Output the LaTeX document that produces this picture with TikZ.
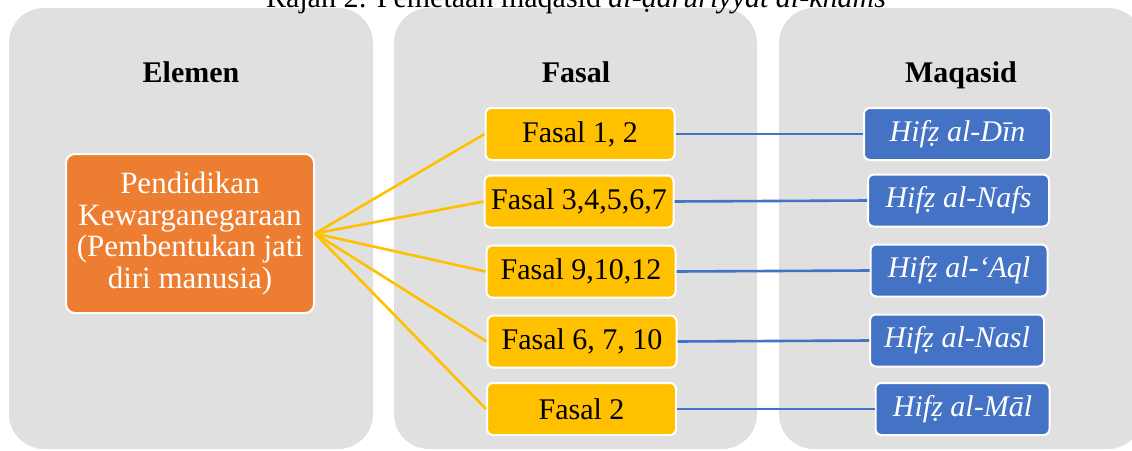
\documentclass[tikz,border=0pt]{standalone}
\usepackage{fontspec}
\setmainfont{Liberation Serif}
\definecolor{panelgray}{HTML}{E0E0E0}
\definecolor{elemenorange}{HTML}{ED7D31}
\definecolor{fasalyellow}{HTML}{FFC000}
\definecolor{maqasidblue}{HTML}{4472C4}

\begin{document}
\begin{tikzpicture}[x=1pt,y=-1pt,
  panel/.style={fill=panelgray,rounded corners=35pt},
  heading/.style={font=\fontsize{30}{36}\selectfont\bfseries,anchor=base},
  elemenbox/.style={draw=white,line width=2pt,fill=elemenorange,rounded corners=9pt,text=white,align=center,
    font=\fontsize{31}{31.5}\selectfont,minimum width=248pt,minimum height=159pt,inner sep=0pt},
  fasalbox/.style={draw=white,line width=2pt,fill=fasalyellow,rounded corners=6pt,
    minimum width=189pt,minimum height=52pt,inner sep=0pt,font=\fontsize{30}{36}\selectfont},
  maqasidbox/.style={draw=white,line width=2pt,fill=maqasidblue,rounded corners=6pt,text=white,
    minimum height=52pt,inner sep=0pt,font=\fontsize{30}{36}\selectfont\itshape},
  yline/.style={draw=fasalyellow,line width=2.6pt},
  bline/.style={draw=maqasidblue,line width=2.6pt}]
 \clip (0,0) rectangle (1132,450); %batas gambar

 \fill[panel] (9,8) rectangle (373,449); %panel Elemen
 \fill[panel] (394,8) rectangle (757,449); %panel Fasal
 \fill[panel] (779,8) rectangle (1143,449); %panel Maqasid

 \node[font=\fontsize{30}{36}\selectfont,anchor=base] (rajah) at (576,7)
   {Rajah 2: Pemetaan maqasid \textit{al-ḍarūriyyāt al-khams}};

 \node[heading] (hElemen) at (191,82) {Elemen};
 \node[heading] (hFasal) at (576,82) {Fasal};
 \node[heading] (hMaqasid) at (961,82) {Maqasid};

 \node[elemenbox] (elemen) at (190,233.5)
   {Pendidikan\\Kewarganegaraan\\(Pembentukan jati\\diri manusia)};

 \node[fasalbox] (f1) at (580,134) {Fasal 1, 2};
 \node[fasalbox] (f2) at (579,201.5) {Fasal 3,4,5,6,7};
 \node[fasalbox] (f3) at (581,271.5) {Fasal 9,10,12};
 \node[fasalbox] (f4) at (582,341.5) {Fasal 6, 7, 10};
 \node[fasalbox] (f5) at (581.5,409) {Fasal 2};

 \node[maqasidbox,minimum width=187pt] (m1) at (957.5,134) {Hifẓ al-Dīn};
 \node[maqasidbox,minimum width=181pt] (m2) at (958.5,200.5) {Hifẓ al-Nafs};
 \node[maqasidbox,minimum width=177pt] (m3) at (959,270.5) {Hifẓ al-‘Aql};
 \node[maqasidbox,minimum width=174pt] (m4) at (957,340.5) {Hifẓ al-Nasl};
 \node[maqasidbox,minimum width=174pt] (m5) at (962.5,409) {Hifẓ al-Māl};

 \draw[yline] (elemen.east) -- (f1.west); %elemen ke fasal
 \draw[yline] (elemen.east) -- (f2.west);
 \draw[yline] (elemen.east) -- (f3.west);
 \draw[yline] (elemen.east) -- (f4.west);
 \draw[yline] (elemen.east) -- (f5.west);

 \draw[bline] (f1.east) -- (m1.west); %fasal ke maqasid
 \draw[bline] (f2.east) -- (m2.west);
 \draw[bline] (f3.east) -- (m3.west);
 \draw[bline] (f4.east) -- (m4.west);
 \draw[bline] (f5.east) -- (m5.west);
\end{tikzpicture}
\end{document}
